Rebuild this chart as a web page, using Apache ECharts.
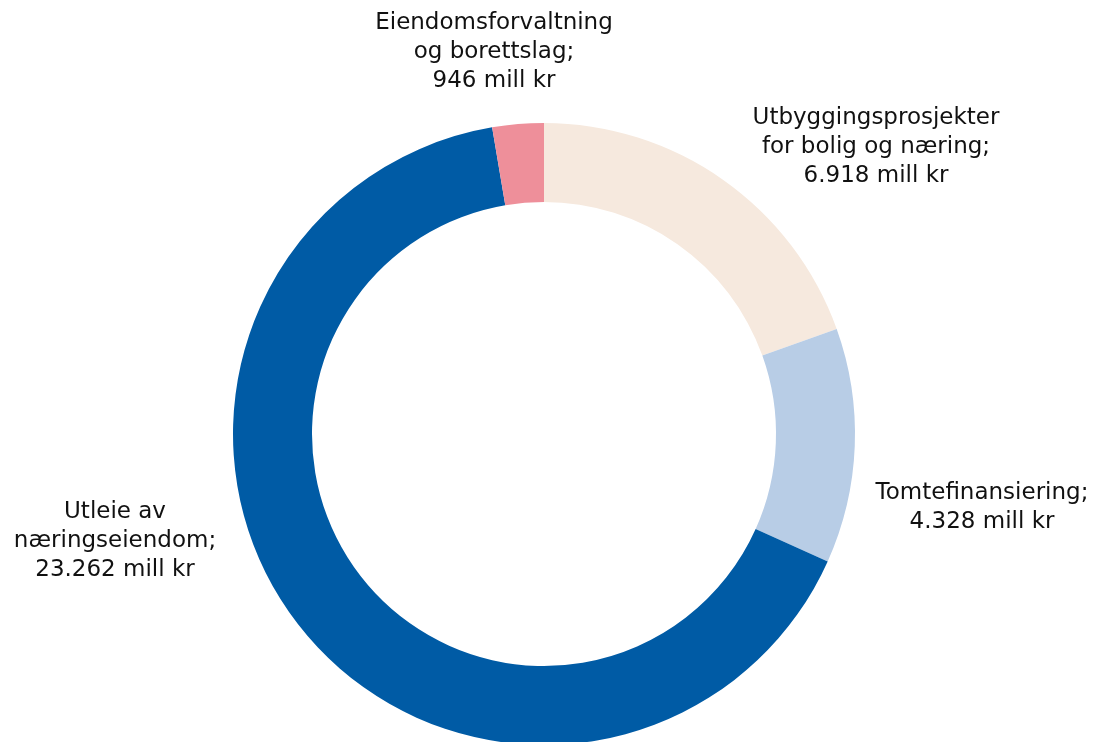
<!DOCTYPE html>
<html>
<head>
<meta charset="utf-8">
<script src="https://cdn.jsdelivr.net/npm/echarts@6/dist/echarts.min.js"></script>
<style>
    html, body { margin: 0; padding: 0; background: #fff; }
    #chart { width: 1094px; height: 742px; }
</style>
</head>
<body>
<div id="chart"></div>
<script>
// data (mill kr), clockwise from 12 o'clock
let categories = [
    'Utbyggingsprosjekter\nfor bolig og næring',
    'Tomtefinansiering',
    'Utleie av\nnæringseiendom',
    'Eiendomsforvaltning\nog borettslag'
];
let values = [6918, 4328, 23262, 946];
let colors = ['#f6e9de', '#b8cde6', '#005ba5', '#ee8f9a'];

// where the labels sit (centre of text block)
let labelSpots = [[876, 147], [982, 508], [115, 541], [494, 52]];

let chart = echarts.init(document.getElementById('chart'));

function fmt(v) {
    return String(v).replace(/\B(?=(\d{3})+(?!\d))/g, '.');
}

let option = {
    animation: false,
    series: [
        {
            type: 'pie',
            center: [544, 434],
            radius: [232, 311],
            startAngle: 90,
            clockwise: true,
            avoidLabelOverlap: false,
            data: values.map(function (v, i) {
                return { name: categories[i], value: v, itemStyle: { color: colors[i] } };
            }),
            label: {
                show: true,
                position: 'outside',
                fontFamily: 'DejaVu Sans',
                fontSize: 23,
                lineHeight: 29,
                color: '#111111',
                align: 'center',
                formatter: function (p) {
                    return p.name + ';\n' + fmt(p.value) + ' mill kr';
                }
            },
            labelLine: { show: false },
            labelLayout: function (params) {
                let s = labelSpots[params.dataIndex];
                return {
                    x: s[0],
                    y: s[1],
                    align: 'center',
                    verticalAlign: 'middle'
                };
            },
            emphasis: { disabled: true }
        }
    ]
};
chart.setOption(option);
</script>
</body>
</html>
